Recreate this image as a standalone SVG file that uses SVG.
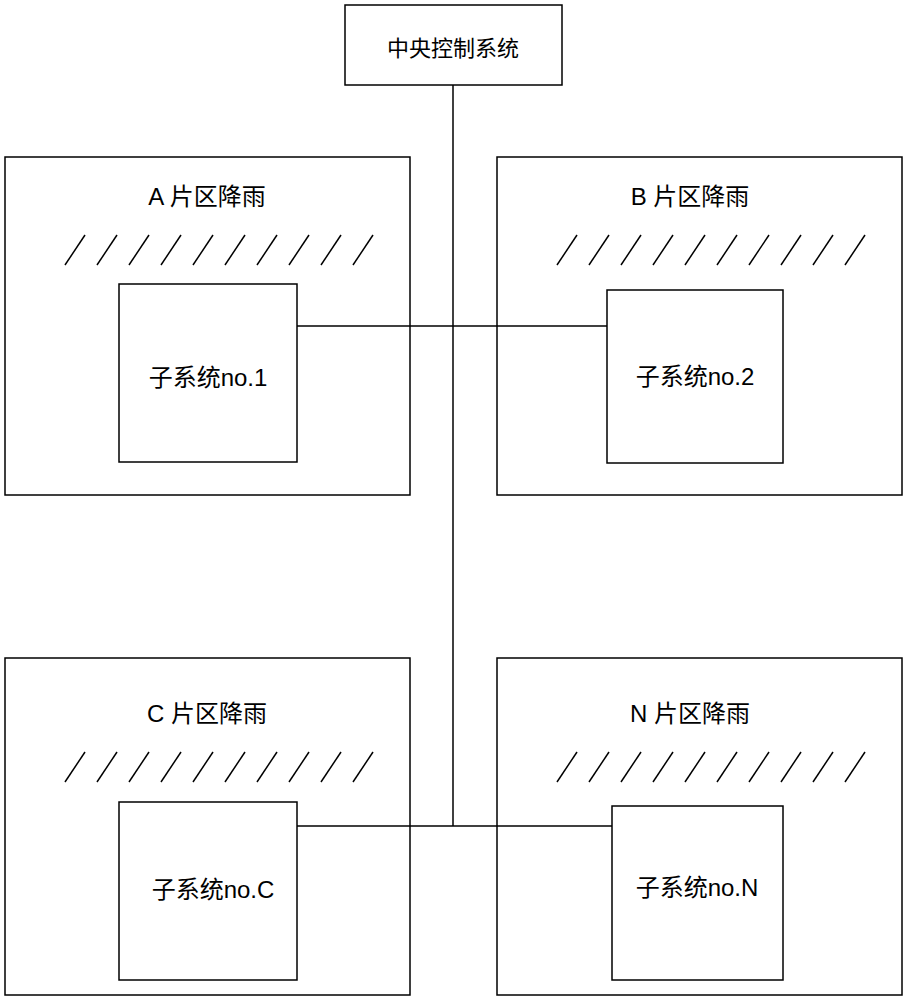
<svg xmlns="http://www.w3.org/2000/svg" width="908" height="1000" viewBox="0 0 908 1000">
<style>
rect{fill:#fff;stroke:#000;stroke-width:1.5}
.c line{stroke:#000;stroke-width:1.5}
.h{stroke:#000;stroke-width:1.5}
text{font-family:"Liberation Sans","Noto Sans CJK SC",sans-serif;fill:#000}
.t{font-size:24px}
.s{font-size:22px}
</style>
<defs>
<g id="hatch" class="h">
<line x1="0" y1="30" x2="20" y2="0"/><line x1="32" y1="30" x2="52" y2="0"/><line x1="64" y1="30" x2="84" y2="0"/><line x1="96" y1="30" x2="116" y2="0"/><line x1="128" y1="30" x2="148" y2="0"/><line x1="160" y1="30" x2="180" y2="0"/><line x1="192" y1="30" x2="212" y2="0"/><line x1="224" y1="30" x2="244" y2="0"/><line x1="256" y1="30" x2="276" y2="0"/><line x1="288" y1="30" x2="308" y2="0"/>
</g>
</defs>
<g id="central"><rect x="345" y="5" width="217" height="80"/><text x="453" y="56" class="s" text-anchor="middle">中央控制系统</text></g>
<g id="zoneA"><rect x="5" y="157" width="405" height="338"/><text x="207" y="205" class="t" text-anchor="middle">A 片区降雨</text><use href="#hatch" x="65" y="235"/></g>
<g id="zoneB"><rect x="497" y="157" width="405" height="338"/><text x="690" y="205" class="t" text-anchor="middle">B 片区降雨</text><use href="#hatch" x="557" y="235"/></g>
<g id="zoneC"><rect x="5" y="658" width="405" height="337"/><text x="207" y="722" class="t" text-anchor="middle">C 片区降雨</text><use href="#hatch" x="65" y="752"/></g>
<g id="zoneN"><rect x="497" y="658" width="405" height="337"/><text x="690" y="722" class="t" text-anchor="middle">N 片区降雨</text><use href="#hatch" x="557" y="752"/></g>
<g id="sub1"><rect x="119" y="284" width="178" height="178"/><text x="208" y="386" class="t" text-anchor="middle">子系统no.1</text></g>
<g id="sub2"><rect x="607" y="290" width="176" height="173"/><text x="695" y="385" class="t" text-anchor="middle">子系统no.2</text></g>
<g id="subC"><rect x="119" y="802" width="178" height="178"/><text x="213" y="898" class="t" text-anchor="middle">子系统no.C</text></g>
<g id="subN"><rect x="612" y="806" width="171" height="174"/><text x="697" y="896" class="t" text-anchor="middle">子系统no.N</text></g>
<g class="c" id="connectors">
<line x1="453" y1="85" x2="453" y2="826"/>
<line x1="297" y1="326" x2="607" y2="326"/>
<line x1="297" y1="826" x2="612" y2="826"/>
</g>
</svg>
